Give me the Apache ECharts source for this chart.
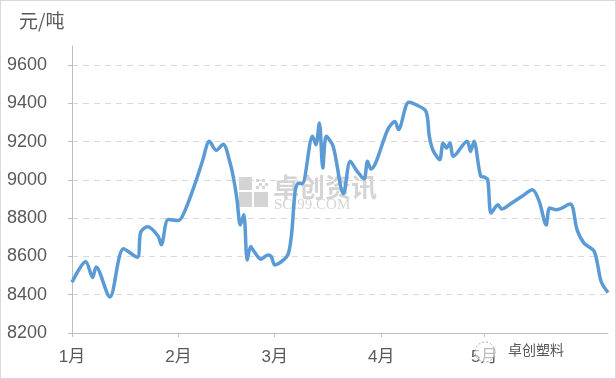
<!DOCTYPE html>
<html><head><meta charset="utf-8">
<script src="https://cdn.jsdelivr.net/npm/echarts@6/dist/echarts.min.js"></script>
<style>
html,body{margin:0;padding:0;background:#fff}
#wrap{width:616px;height:379px;box-sizing:border-box;border:1px solid #d9d9d9;}
#chart{width:614px;height:377px}
</style></head>
<body><div id="wrap"><div id="chart"></div></div>
<script>
// ---- data ----
const axisFirstDay = '2019-01-01';
const axisLastDay = '2019-06-06';
const labeledMonths = ['2019-01-01', '2019-02-01', '2019-03-01', '2019-04-01', '2019-05-01'];
const monthLabels = ['1月', '2月', '3月', '4月', '5月'];
const dates = [
 '2019-01-01','2019-01-05','2019-01-07','2019-01-08','2019-01-12','2019-01-16','2019-01-20','2019-01-21',
 '2019-01-23','2019-01-26','2019-01-27','2019-01-29','2019-02-01','2019-02-03','2019-02-06','2019-02-08',
 '2019-02-10','2019-02-12','2019-02-14',
 '2019-02-16','2019-02-17','2019-02-18','2019-02-19','2019-02-20','2019-02-21','2019-02-22','2019-02-23',
 '2019-02-25','2019-02-27','2019-02-28','2019-03-01','2019-03-05','2019-03-07','2019-03-08','2019-03-09',
 '2019-03-12','2019-03-13','2019-03-14','2019-03-15','2019-03-16','2019-03-18','2019-03-21','2019-03-23',
 '2019-03-25','2019-03-27','2019-03-28','2019-03-29','2019-04-03','2019-04-05','2019-04-06','2019-04-09',
 '2019-04-11','2019-04-14','2019-04-15','2019-04-16','2019-04-18','2019-04-19','2019-04-20','2019-04-21',
 '2019-04-22','2019-04-26','2019-04-27','2019-04-28','2019-04-30','2019-05-01','2019-05-02','2019-05-03',
 '2019-05-05','2019-05-06','2019-05-09','2019-05-12','2019-05-15','2019-05-17','2019-05-19','2019-05-20',
 '2019-05-22','2019-05-26','2019-05-28','2019-05-30','2019-06-02','2019-06-04','2019-06-06'
];
const prices = [
 8465,8572,8490,8545,8388,8640,8596,8727,
 8755,8708,8661,8793,8788,8845,8990,9100,
 9202,9155,9187,
 9090,9010,8900,8765,8818,8582,8652,8626,
 8586,8608,8600,8556,8617,8949,8984,8980,
 9228,9184,9298,9062,9228,9176,8928,9097,
 9045,9005,9097,9057,9267,9306,9263,9406,
 9394,9359,9228,9158,9106,9193,9167,9193,
 9123,9202,9149,9202,9018,9015,9000,8827,
 8870,8848,8880,8915,8949,8887,8765,8853,
 8844,8874,8739,8670,8626,8469,8411
];
const yMin = 8200, yMax = 9700, yStep = 200;
const unitLabel = '元/吨';

// ---- axis categories: every calendar day ----
const days = [];
for (let t = Date.parse(axisFirstDay + 'T00:00:00Z'); t <= Date.parse(axisLastDay + 'T00:00:00Z'); t += 86400000) {
  days.push(new Date(t).toISOString().slice(0, 10));
}
const isLabeled = (i, v) => labeledMonths.indexOf(v) >= 0;

const chart = echarts.init(document.getElementById('chart'));
const txt = '#595959';
const numFont = '"Liberation Sans", "Noto Sans CJK SC", sans-serif';
chart.setOption({
  animation: false,
  backgroundColor: '#fff',
  textStyle: { fontFamily: numFont },
  title: {
    text: unitLabel, left: 18, top: 10, padding: 0,
    textStyle: { fontSize: 19, fontWeight: 'normal', color: txt, fontFamily: '"Noto Sans CJK SC"' }
  },
  grid: { left: 71, right: 7, top: 45, bottom: 45 },
  xAxis: {
    type: 'category', data: days, boundaryGap: false,
    axisLine: { show: true, lineStyle: { color: '#bfbfbf', width: 1 } },
    axisTick: { show: true, interval: isLabeled, length: 4, lineStyle: { color: '#bfbfbf' } },
    axisLabel: {
      interval: isLabeled, margin: 16, fontSize: 17, color: txt, fontFamily: numFont,
      formatter: v => monthLabels[labeledMonths.indexOf(v)]
    },
    splitLine: { show: false }
  },
  yAxis: {
    type: 'value', min: yMin, max: yMax, interval: yStep,
    axisLine: { show: true, lineStyle: { color: '#bfbfbf', width: 1 } },
    axisTick: { show: true, length: 4, lineStyle: { color: '#bfbfbf' } },
    axisLabel: { showMaxLabel: false, margin: 25, fontSize: 18, color: txt, fontFamily: numFont,
      formatter: v => String(v) },
    splitLine: { show: true, showMinLine: false, showMaxLine: false, lineStyle: { color: '#d9d9d9', type: [6, 5], width: 1 } }
  },
  graphic: [
    { type: 'group', left: 238, top: 173, silent: true, children: [
      { type: 'rect', shape: { x: 0, y: 0, width: 13, height: 13 }, style: { fill: '#d4d4d4' } },
      { type: 'rect', shape: { x: 0, y: 15, width: 13, height: 15 }, style: { fill: '#d4d4d4' } },
      { type: 'rect', shape: { x: 15, y: 15, width: 14, height: 15 }, style: { fill: '#d4d4d4' } },
      { type: 'rect', shape: { x: 17, y: 2, width: 3, height: 3 }, style: { fill: '#d4d4d4' } },
      { type: 'rect', shape: { x: 23, y: 2, width: 3, height: 3 }, style: { fill: '#d4d4d4' } },
      { type: 'rect', shape: { x: 20, y: 6, width: 3, height: 3 }, style: { fill: '#d4d4d4' } },
      { type: 'rect', shape: { x: 26, y: 6, width: 3, height: 3 }, style: { fill: '#d4d4d4' } },
      { type: 'rect', shape: { x: 17, y: 9, width: 3, height: 3 }, style: { fill: '#d4d4d4' } },
      { type: 'rect', shape: { x: 23, y: 9, width: 3, height: 3 }, style: { fill: '#d4d4d4' } },
      { type: 'text', x: 34, y: -3, style: { text: '卓创资讯', fontSize: 26, fontWeight: 'bold', fill: '#d4d4d4', fontFamily: '"Noto Sans CJK SC"' } },
      { type: 'text', x: 35, y: 21, style: { text: 'SCI99.COM', fontSize: 15, fill: '#d4d4d4', fontFamily: '"Liberation Serif"' } }
    ]},
    { type: 'circle', silent: true, z: 100, shape: { cx: 484, cy: 351, r: 10 }, style: { fill: 'rgba(255,255,255,0.6)', stroke: '#aaa', lineDash: [2, 2], lineWidth: 1 } },
    { type: 'text', silent: true, z: 100, left: 506, top: 341, style: { text: '卓创塑料', fontSize: 14, fill: '#555', fontFamily: '"Noto Sans CJK SC"', stroke: '#fff', lineWidth: 2 } }
  ],
  series: [{
    type: 'line',
    data: dates.map((d, i) => [d, prices[i]]),
    showSymbol: false, symbol: 'none',
    smooth: 0.3,
    lineStyle: { color: '#5b9bd5', width: 3.5 },
    z: 3
  }]
});
</script>
</body></html>
